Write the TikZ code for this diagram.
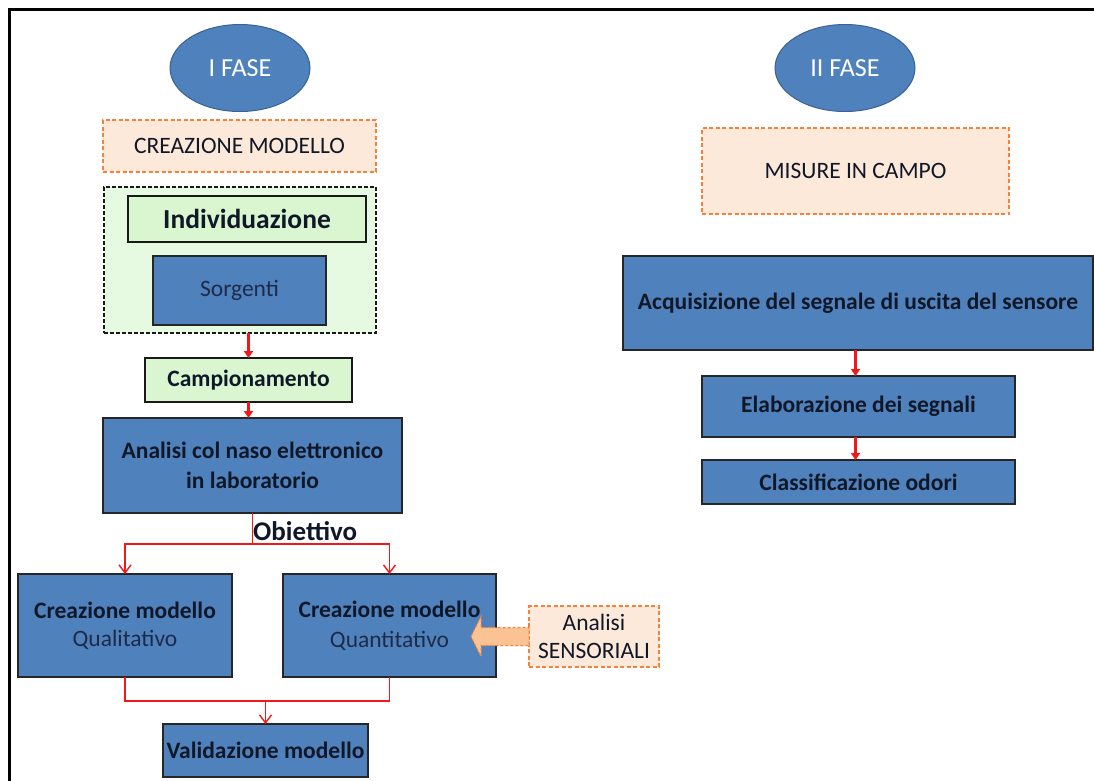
\documentclass[tikz,border=0pt]{standalone}
\usepackage{fontspec}
\setmainfont{Carlito}
\usetikzlibrary{shapes.geometric,arrows.meta,calc}
\definecolor{boxblue}{HTML}{4F81BD}
\definecolor{ellborder}{HTML}{3A6294}
\definecolor{peach}{HTML}{FDE9D9}
\definecolor{orangeline}{HTML}{F5813A}
\definecolor{arrowfill}{HTML}{FBC394}
\definecolor{greenout}{HTML}{E6FAE1}
\definecolor{greenin}{HTML}{D9F6D1}
\definecolor{textdark}{HTML}{101828}
\definecolor{textsoft}{HTML}{1E2B48}
\definecolor{redline}{HTML}{F01818}
\tikzset{
  base/.style={inner sep=0pt, outer sep=0pt, anchor=north west, align=center},
  bluebox/.style={base, draw=black!85, line width=1.4pt, fill=boxblue, text=textdark},
  greenbox/.style={base, draw=black!90, line width=1.4pt, fill=greenin, text=textdark},
  greenframe/.style={base, draw=black!90, line width=1.1pt, dashed, dash pattern=on 4pt off 2pt, fill=greenout},
  peachbox/.style={base, draw=orangeline, line width=1.2pt, dash pattern=on 4pt off 2.5pt, fill=peach, text=textdark},
  phase/.style={ellipse, draw=ellborder, line width=1pt, fill=boxblue, text=white, inner sep=0pt, minimum width=140pt, minimum height=87pt},
  fb/.style={font=\fontsize{23.5}{30}\selectfont\bfseries},
  fr/.style={font=\fontsize{23.5}{28}\selectfont},
  thickarrow/.style={draw=redline, line width=2.4pt, -{Triangle[length=7pt,width=9pt]}},
  thinline/.style={draw=redline, line width=1.4pt},
  thinarrow/.style={draw=redline, line width=1.4pt, -{Straight Barb[length=8pt,width=12pt,line width=1.4pt]}},
}
\begin{document}
\begin{tikzpicture}[x=1pt,y=-1pt]
\useasboundingbox (0,0) rectangle (1094,780);
\fill[white] (0,0) rectangle (1094,780);
% frame
\draw[line width=3pt] (9.5,795) -- (9.5,9.5) -- (1105,9.5);

% ---------- I FASE ----------
\node[phase, font=\fontsize{26}{30}\selectfont] (f1) at (240,68) {I FASE};
\node[peachbox, fr, minimum width=273pt, minimum height=52pt] (creaz) at (103,120) {CREAZIONE MODELLO};
\node[greenframe, minimum width=272pt, minimum height=146pt] (gframe) at (104,187) {};
\node[greenbox, minimum width=238pt, minimum height=46pt, font=\fontsize{27.5}{30}\selectfont\bfseries] (indiv) at (128,196) {Individuazione};
\node[bluebox, fr, text=textsoft, minimum width=173pt, minimum height=69pt] (sorg) at (153,256) {Sorgenti};
\node[greenbox, fb, minimum width=207pt, minimum height=44pt] (camp) at (145,358) {Campionamento};
\node[bluebox, fb, minimum width=299pt, minimum height=95pt] (anal) at (103,418) {Analisi col naso elettronico\\in laboratorio};
\node[bluebox, fr, minimum width=214pt, minimum height=103pt] (qual) at (18,574)
  {\textbf{Creazione modello}\\{\color{textsoft}Qualitativo}};
\node[bluebox, fr, minimum width=213pt, minimum height=103pt] (quant) at (283,574)
  {\textbf{Creazione modello}\\[2pt]{\color{textsoft}Quantitativo}};
\node[peachbox, fr, minimum width=130pt, minimum height=61pt] (sens) at (529,606) {Analisi\\SENSORIALI};
\node[bluebox, fb, minimum width=205pt, minimum height=53pt] (valid) at (163,724) {Validazione modello};
\node[anchor=base west, inner sep=0pt, font=\fontsize{27}{30}\selectfont\bfseries, text=textdark] (obj) at (253,540) {Obiettivo};

% connectors
\draw[thickarrow] (camp.north |- gframe.south) -- (camp.north);
\draw[thickarrow] (camp.south) -- (camp.south |- anal.north);
\coordinate (split) at ($(anal.south)+(0,31)$);
\draw[thinline] (anal.south) -- (split);
\draw[thinarrow] (split) -| (qual.north);
\draw[thinarrow] (split) -| (quant.north);
\coordinate (join) at ($(valid.north)+(0,-23)$);
\draw[thinline] (qual.south) |- (join) -| (quant.south);
\draw[thinarrow] (join) -- (valid.north);
% block arrow from Analisi SENSORIALI to Quantitativo
\coordinate (tip) at ([xshift=-25pt]quant.east |- sens.west);
\draw[fill=arrowfill, draw=orangeline, line width=1pt, dash pattern=on 3pt off 2pt]
  (tip) -- ++(10,-20) -- ++(0,11) -- ([yshift=9pt]sens.west)
  -- ([yshift=-9pt]sens.west) -- ($(tip)+(10,9)$) -- ++(0,11) -- cycle;

% ---------- II FASE ----------
\node[phase, font=\fontsize{26}{30}\selectfont] (f2) at (845,68) {II FASE};
\node[peachbox, fr, minimum width=307pt, minimum height=86pt] (misure) at (702,128) {MISURE IN CAMPO};
\node[bluebox, fb, minimum width=470pt, minimum height=94pt] (acq) at (623,256) {Acquisizione del segnale di uscita del sensore};
\node[bluebox, fb, minimum width=313pt, minimum height=61pt] (elab) at (702,376) {Elaborazione dei segnali};
\node[bluebox, fb, minimum width=313pt, minimum height=44pt] (class) at (702,460) {Classificazione odori};
\draw[thickarrow] ([xshift=-3pt]elab.north |- acq.south) -- ([xshift=-3pt]elab.north);
\draw[thickarrow] ([xshift=-3pt]elab.south) -- ([xshift=-3pt]class.north);
\end{tikzpicture}
\end{document}
